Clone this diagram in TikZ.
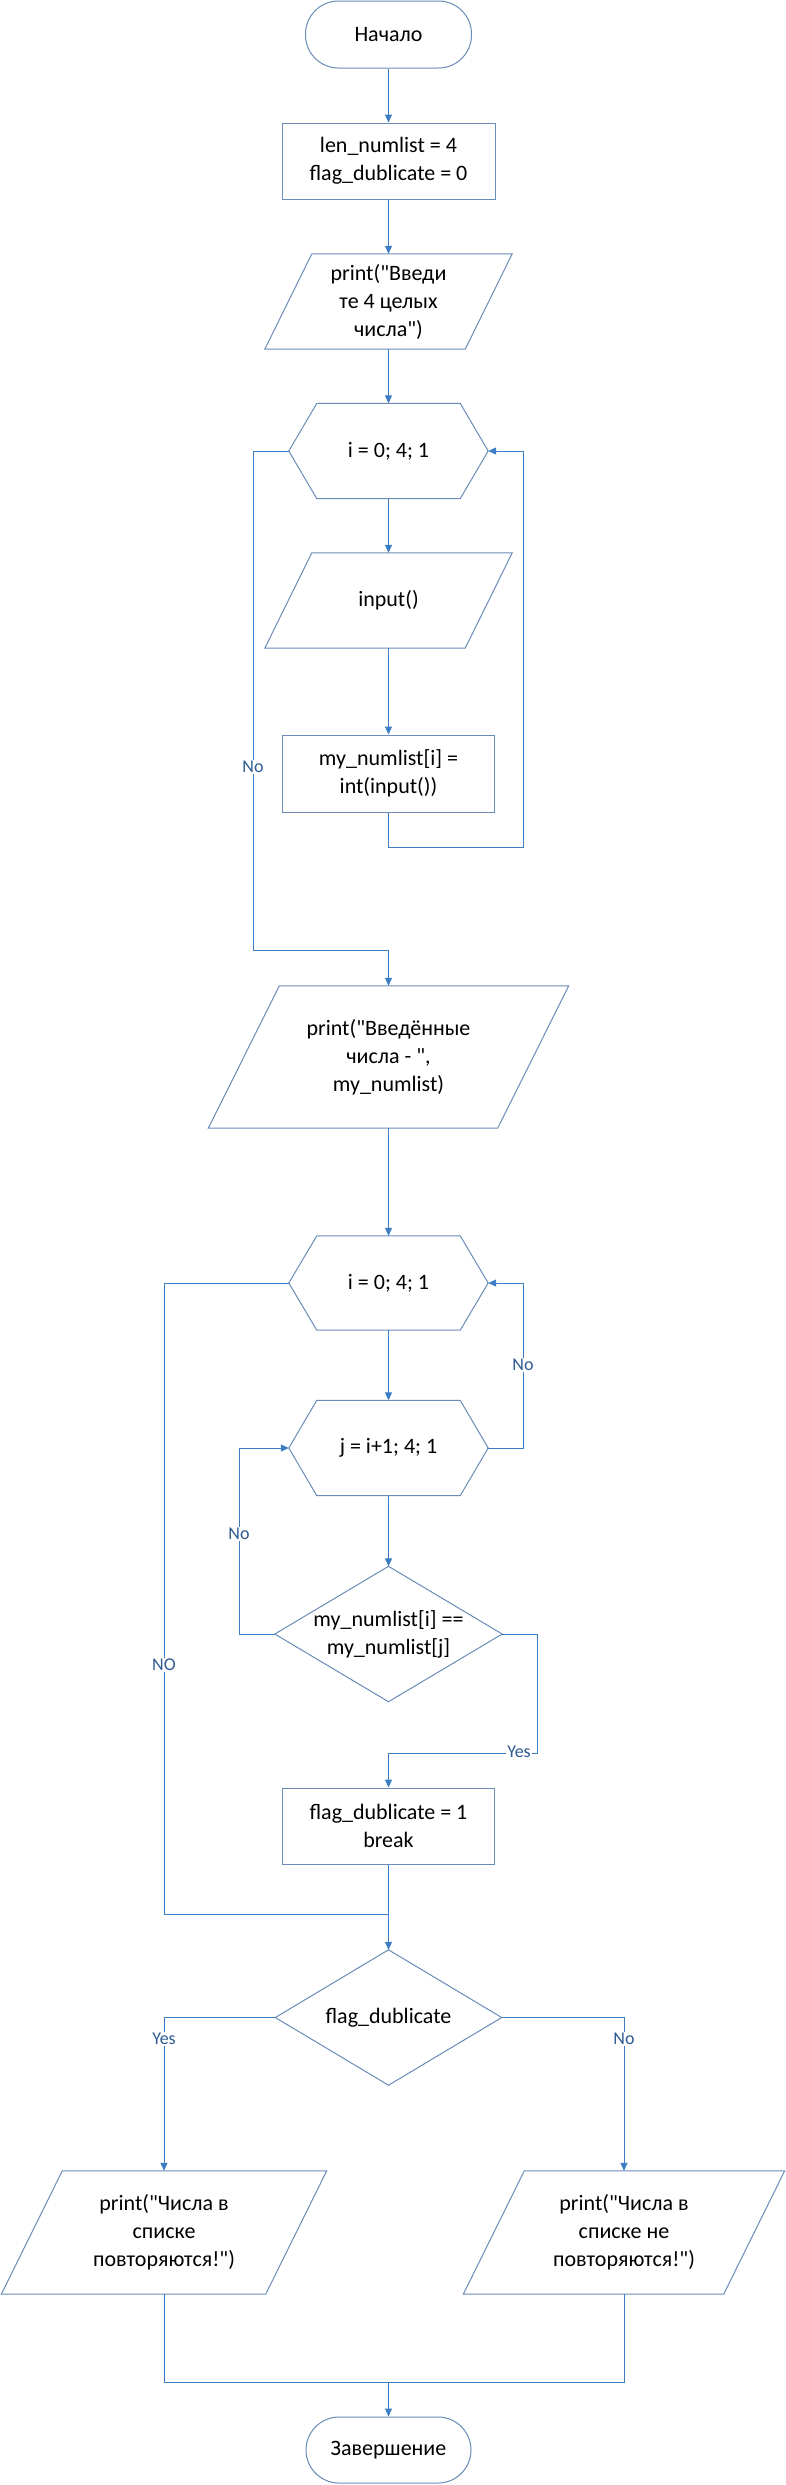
\documentclass[tikz,border=0pt]{standalone}
\usepackage{fontspec}
\setmainfont{Carlito}[Ligatures=TeXOff]
\usetikzlibrary{arrows.meta,calc}
\definecolor{conn}{HTML}{3C7DC4}
\definecolor{bord}{HTML}{6A8CB8}
\definecolor{lbl}{HTML}{2E5A91}
\begin{document}
\begin{tikzpicture}[x=1pt,y=-1pt,
  txt/.style={font=\fontsize{22}{28}\selectfont, align=center, text=black},
  term/.style={txt, draw=bord, line width=1pt, rounded corners=33pt, inner sep=0pt},
  procbox/.style={txt, draw=bord, line width=1pt, inner sep=0pt},
  ghost/.style={txt, inner sep=0pt},
  shp/.style={draw=bord, line width=1pt, line join=miter},
  arr/.style={draw=conn, line width=1pt, -{Triangle[length=8pt,width=7pt]}},
  ln/.style={draw=conn, line width=1pt},
  lab/.style={font=\fontsize{18}{20}\selectfont, text=lbl, fill=white, inner sep=1.5pt}
]
\useasboundingbox[fill=white] (0,0) rectangle (786,2485);

% ---- nodes ----
\node[term, minimum width=166pt, minimum height=67pt] (st) at (388.5,34.5) {Начало};
\node[procbox, minimum width=213pt, minimum height=76pt] (b1) at (388.5,161) {len\_numlist = 4\\flag\_dublicate = 0};

\node[ghost, minimum width=247pt, minimum height=95pt] (p1) at (388.5,301.5) {print("Введи\\те 4 целых\\числа")};
\draw[shp] ($(p1.north west)+(47,0)$) -- (p1.north east) -- ($(p1.south east)-(47,0)$) -- (p1.south west) -- cycle;

\node[ghost, minimum width=199pt, minimum height=95pt] (h1) at (388.5,451) {i = 0; 4; 1};
\draw[shp] (h1.west) -- ($(h1.north west)+(28,0)$) -- ($(h1.north east)-(28,0)$) -- (h1.east) -- ($(h1.south east)-(28,0)$) -- ($(h1.south west)+(28,0)$) -- cycle;

\node[ghost, minimum width=247pt, minimum height=95pt] (pi) at (388.5,600.5) {input()};
\draw[shp] ($(pi.north west)+(47,0)$) -- (pi.north east) -- ($(pi.south east)-(47,0)$) -- (pi.south west) -- cycle;

\node[procbox, minimum width=212pt, minimum height=77pt] (b2) at (388.5,773.5) {my\_numlist[i] =\\int(input())};

\node[ghost, minimum width=360pt, minimum height=142pt] (p2) at (388.5,1057) {print("Введённые\\числа - ",\\my\_numlist)};
\draw[shp] ($(p2.north west)+(71,0)$) -- (p2.north east) -- ($(p2.south east)-(71,0)$) -- (p2.south west) -- cycle;

\node[ghost, minimum width=199pt, minimum height=94pt] (h2) at (388.5,1283) {i = 0; 4; 1};
\draw[shp] (h2.west) -- ($(h2.north west)+(28,0)$) -- ($(h2.north east)-(28,0)$) -- (h2.east) -- ($(h2.south east)-(28,0)$) -- ($(h2.south west)+(28,0)$) -- cycle;

\node[ghost, minimum width=199pt, minimum height=95pt] (h3) at (388.5,1448) {j = i+1; 4; 1};
\draw[shp] (h3.west) -- ($(h3.north west)+(28,0)$) -- ($(h3.north east)-(28,0)$) -- (h3.east) -- ($(h3.south east)-(28,0)$) -- ($(h3.south west)+(28,0)$) -- cycle;

\node[ghost, minimum width=227pt, minimum height=135pt] (d1) at (388.5,1634) {my\_numlist[i] ==\\my\_numlist[j]};
\draw[shp] (d1.north) -- (d1.east) -- (d1.south) -- (d1.west) -- cycle;

\node[procbox, minimum width=212pt, minimum height=76pt] (b3) at (388.5,1826) {flag\_dublicate = 1\\break};

\node[ghost, minimum width=226pt, minimum height=135pt] (d2) at (388.5,2017.5) {flag\_dublicate};
\draw[shp] (d2.north) -- (d2.east) -- (d2.south) -- (d2.west) -- cycle;

\node[ghost, minimum width=325pt, minimum height=123pt] (pL) at (164,2232.5) {print("Числа в\\списке\\повторяются!")};
\draw[shp] ($(pL.north west)+(61,0)$) -- (pL.north east) -- ($(pL.south east)-(61,0)$) -- (pL.south west) -- cycle;

\node[ghost, minimum width=321pt, minimum height=123pt] (pR) at (624,2232.5) {print("Числа в\\списке не\\повторяются!")};
\draw[shp] ($(pR.north west)+(61,0)$) -- (pR.north east) -- ($(pR.south east)-(61,0)$) -- (pR.south west) -- cycle;

\node[term, minimum width=165pt, minimum height=66pt] (en) at (388.5,2450) {Завершение};

% ---- helper coordinates ----
\coordinate (c1) at (523,847);
\coordinate (c2) at (253,950);
\coordinate (c3) at (523,1448);
\coordinate (c4) at (239,1634);
\coordinate (c5) at (537,1753);
\coordinate (c6) at (164,1914);
\coordinate (m1) at (388.5,1914);
\coordinate (m2) at (388.5,2382);

% ---- connectors ----
\draw[arr] (st.south) -- (b1.north);
\draw[arr] (b1.south) -- (p1.north);
\draw[arr] (p1.south) -- (h1.north);
\draw[arr] (h1.south) -- (pi.north);
\draw[arr] (pi.south) -- (b2.north);
\draw[arr] (b2.south) |- (c1) |- (h1.east);
\draw[arr] (h1.west) -| (c2) -| (p2.north);
\draw[arr] (p2.south) -- (h2.north);
\draw[arr] (h2.south) -- (h3.north);
\draw[arr] (h3.south) -- (d1.north);
\draw[arr] (h3.east) -- (c3) |- (h2.east);
\draw[arr] (d1.west) -- (c4) |- (h3.west);
\draw[arr] (d1.east) -| (c5) -| (b3.north);
\draw[ln] (h2.west) -| (c6) -- (m1);
\draw[arr] (b3.south) -- (d2.north);
\draw[arr] (d2.west) -| (pL.north);
\draw[arr] (d2.east) -| (pR.north);
\draw[ln] (pL.south) |- (m2) -| (pR.south);
\draw[arr] (m2) -- (en.north);

% ---- labels ----
\node[lab] (l1) at (253,767) {No};
\node[lab] (l2) at (523,1365) {No};
\node[lab] (l3) at (239,1534) {No};
\node[lab] (l4) at (164,1665) {NO};
\node[lab] (l5) at (519,1752) {Yes};
\node[lab] (l6) at (164,2039) {Yes};
\node[lab] (l7) at (624,2039) {No};
\end{tikzpicture}
\end{document}
